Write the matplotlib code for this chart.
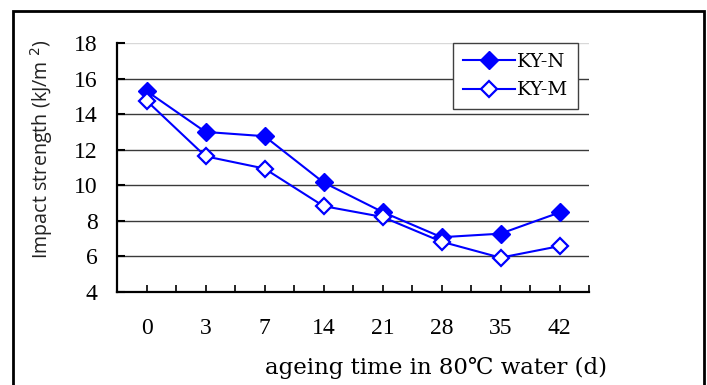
import matplotlib
matplotlib.use("Agg")
import matplotlib.pyplot as plt
from matplotlib.patches import Rectangle

# ageing days (categories) and impact strength values
days = ["0", "3", "7", "14", "21", "28", "35", "42"]
ky_n = [15.3, 13.0, 12.76, 10.16, 8.5, 7.08, 7.28, 8.47]
ky_m = [14.76, 11.63, 10.94, 8.83, 8.22, 6.83, 5.93, 6.58]
y_ticks = [4, 6, 8, 10, 12, 14, 16, 18]

blue = "#0000FF"
serif = ["Liberation Serif", "DejaVu Serif"]
wide = ["DejaVu Serif"]

fig = plt.figure(figsize=(7.07, 3.85), dpi=100)
ax = fig.add_axes([117 / 707, 1 - 292 / 385, 472 / 707, 249 / 385])

x = list(range(len(days)))

# grid lines
for v in y_ticks[1:-1]:
    ax.axhline(v, color="#3a3a3a", lw=1.0, zorder=1)
ax.axhline(18, color="#d8d8d8", lw=1.0, zorder=1)

ax.plot(x, ky_n, color=blue, lw=1.5, marker="D", ms=9,
        mfc=blue, mec=blue, label="KY-N", zorder=3)
ax.plot(x, ky_m, color=blue, lw=1.5, marker="D", ms=8.5,
        mfc="white", mec=blue, mew=1.6, label="KY-M", zorder=3)

ax.set_xlim(-0.5, len(days) - 0.5)
ax.set_ylim(4, 18)

ax.set_yticks(y_ticks)
ax.set_yticklabels([str(v) for v in y_ticks], fontfamily=serif, fontsize=17)
ax.set_xticks(x)
ax.set_xticklabels(days, fontfamily=serif, fontsize=17)
ax.set_xticks([i - 0.5 for i in range(len(days) + 1)], minor=True)

ax.tick_params(axis="y", direction="in", length=6, width=1.5, pad=14)
ax.tick_params(axis="x", which="major", direction="in", length=5, width=1.2, pad=19)
ax.tick_params(axis="x", which="minor", direction="in", length=5, width=1.2)

for s in ["top", "right"]:
    ax.spines[s].set_visible(False)
for s in ["left", "bottom"]:
    ax.spines[s].set_linewidth(1.6)

leg = ax.legend(loc="upper left", bbox_to_anchor=(0.712, 1.0), borderaxespad=0,
                prop={"family": wide, "size": 14}, fancybox=False,
                edgecolor="#404040", framealpha=1, handlelength=2.7,
                handletextpad=0.1, borderpad=0.5, labelspacing=0.55)
leg.get_frame().set_linewidth(1.0)

fig.text(42 / 707, 1 - 149 / 385, "Impact strength (kJ/m $^{2}$)",
         rotation=90, ha="center", va="center", fontsize=14.2,
         fontfamily="Open Sans", color="#222222")
fig.text(436 / 707, 1 - 368 / 385, "ageing time in 80\u2103 water (d)",
         ha="center", va="center", fontsize=16.5, fontfamily=wide)

# outer frame
fig.patches.append(Rectangle((13 / 707, -0.05), 691 / 707, 1.05 - 11 / 385,
                             transform=fig.transFigure, fill=False,
                             lw=2.0, ec="black"))

fig.savefig("out.png", dpi=100)
